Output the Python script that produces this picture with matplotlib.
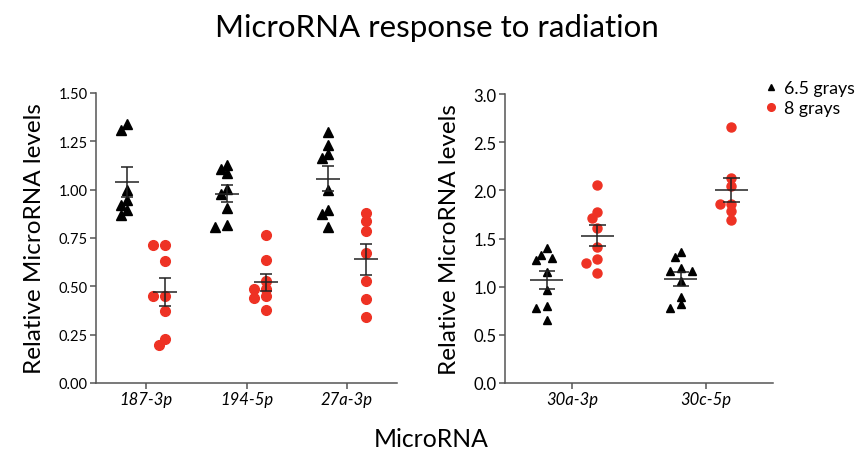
import numpy as np
import matplotlib
matplotlib.use('Agg')
import matplotlib.pyplot as plt
from matplotlib.lines import Line2D

plt.rcParams['font.family'] = ['Lato', 'DejaVu Sans']

# values
left_names = ['187-3p', '194-5p', '27a-3p']
right_names = ['30a-3p', '30c-5p']

g65_187 = [1.34, 1.31, 1.00, 0.945, 0.92, 0.897, 0.867]
g8_187 = [0.716, 0.712, 0.629, 0.45, 0.45, 0.372, 0.229, 0.195]
g65_194 = [1.129, 1.109, 1.086, 1.002, 0.976, 0.907, 0.819, 0.807]
g8_194 = [0.767, 0.634, 0.526, 0.488, 0.484, 0.45, 0.44, 0.376]
g65_27a = [1.298, 1.229, 1.186, 1.166, 0.997, 0.897, 0.876, 0.807]
g8_27a = [0.881, 0.84, 0.786, 0.672, 0.528, 0.433, 0.34]
g65_30a = [1.401, 1.329, 1.294, 1.28, 1.149, 0.965, 0.803, 0.779, 0.657]
g8_30a = [2.059, 1.779, 1.716, 1.606, 1.408, 1.287, 1.246, 1.138]
g65_30c = [1.356, 1.311, 1.194, 1.166, 1.159, 1.055, 0.896, 0.817, 0.775]
g8_30c = [2.661, 2.128, 2.042, 1.858, 1.858, 1.782, 1.692]

left_65 = [g65_187, g65_194, g65_27a]
left_8 = [g8_187, g8_194, g8_27a]
right_65 = [g65_30a, g65_30c]
right_8 = [g8_30a, g8_30c]

red = '#ee3224'
axcol = '#555555'

fig = plt.figure(figsize=(8.6, 4.6), dpi=100)
ax1 = fig.add_axes([96/860, 76/460, 301/860, 290/460])
ax2 = fig.add_axes([505/860, 76/460, 268/860, 289/460])


def swarm(ax, center, vals, step=6, mind=7):
    # simple beeswarm, works in pixels
    to_px = ax.transData.transform
    cx = to_px((center, 0))[0]
    placed = []
    xs = []
    for v in vals:
        py = to_px((center, v))[1]
        for k in [0, -1, 1, -2, 2, -3, 3, -4, 4]:
            px = cx + k * step
            if all(np.hypot(px - qx, py - qy) >= mind for qx, qy in placed):
                break
        placed.append((px, py))
        xs.append(ax.transData.inverted().transform((px, py))[0])
    return xs


def draw_group(ax, center, vals, marker, color, ms, step):
    xs = swarm(ax, center, vals, step=step)
    ax.plot(xs, vals, linestyle='none', marker=marker, color=color,
            ms=ms, mec=color, zorder=2, clip_on=False)
    m = np.mean(vals)
    se = np.std(vals, ddof=1) / np.sqrt(len(vals))
    ax.hlines(m, center - 0.12, center + 0.12, color='#222222', lw=1.1, zorder=3)
    ax.vlines(center, m - se, m + se, color='#222222', lw=1.1, zorder=3)
    ax.hlines([m - se, m + se], center - 0.06, center + 0.06, color='#222222', lw=1.1, zorder=3)


def style(ax, names, ymax, yticks, fmt, tsize):
    ax.set_xlim(0, len(names))
    ax.set_ylim(0, ymax)
    ax.set_xticks(np.arange(len(names)) + 0.5)
    ax.set_xticklabels(names, fontsize=12, style='italic')
    ax.set_yticks(yticks)
    ax.set_yticklabels([fmt % t for t in yticks], fontsize=tsize)
    for s in ['top', 'right']:
        ax.spines[s].set_visible(False)
    for s in ['left', 'bottom']:
        ax.spines[s].set_color(axcol)
        ax.spines[s].set_linewidth(1.1)
    ax.tick_params(direction='out', length=4, width=1.1, color=axcol, pad=2)
    ax.set_ylabel('Relative MicroRNA levels', fontsize=17.5, labelpad=9.5)


style(ax1, left_names, 1.5, [0, 0.25, 0.5, 0.75, 1.0, 1.25, 1.5], '%.2f', 10.5)
style(ax2, right_names, 3.0, [0, 0.5, 1.0, 1.5, 2.0, 2.5, 3.0], '%.1f', 12)

for i in range(len(left_names)):
    draw_group(ax1, i + 0.5 - 0.19, left_65[i], '^', 'black', 6.5, 6)
    draw_group(ax1, i + 0.5 + 0.19, left_8[i], 'o', red, 7, 6)

for i in range(len(right_names)):
    draw_group(ax2, i + 0.5 - 0.19, right_65[i], '^', 'black', 6, 5.5)
    draw_group(ax2, i + 0.5 + 0.19, right_8[i], 'o', red, 6.5, 5.5)

fig.text(437/860, 1 - 28/460, 'MicroRNA response to radiation', fontsize=22.5,
         ha='center', va='center')
fig.text(431/860, 1 - 440/460, 'MicroRNA', fontsize=17.8, ha='center', va='center')

handles = [Line2D([], [], linestyle='none', marker='^', color='black', ms=5),
           Line2D([], [], linestyle='none', marker='o', color=red, ms=5.5)]
fig.legend(handles, ['6.5 grays', '8 grays'], loc='upper left',
           bbox_to_anchor=(766/860, 1 - 81/460), frameon=False, fontsize=12.8,
           handlelength=0.6, handletextpad=0.4, labelspacing=0.25,
           borderaxespad=0, borderpad=0)

fig.savefig('out.png', dpi=100)
